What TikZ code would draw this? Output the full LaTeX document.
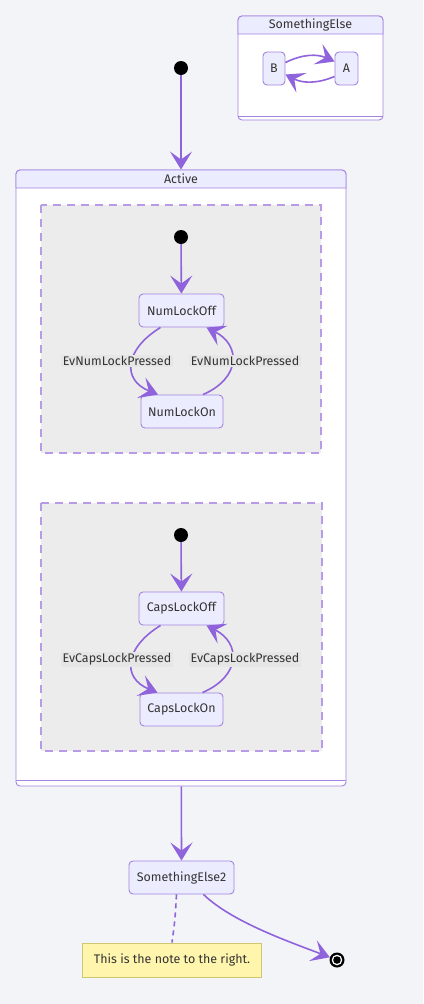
\documentclass[tikz,border=0pt]{standalone}
\usepackage{fontspec}
\setmainfont{Fira Sans}
\usetikzlibrary{arrows.meta}

\definecolor{bgcol}{HTML}{F2F4F8}
\definecolor{stfill}{HTML}{ECECFF}
\definecolor{stline}{HTML}{A583E0}
\definecolor{arrowcol}{HTML}{8F63DB}
\definecolor{regionfill}{HTML}{ECECEC}
\definecolor{dashcol}{HTML}{B79BE6}
\definecolor{labelfill}{HTML}{E6E6E6}
\definecolor{notefill}{HTML}{FFF5AD}
\definecolor{noteline}{HTML}{CFC770}
\definecolor{textcol}{HTML}{333333}

\begin{document}
\begin{tikzpicture}[x=1bp, y=-1bp,
						every node/.style={font=\fontsize{12.5}{15}\selectfont, text=textcol},
						state/.style={draw=stline, fill=stfill, rounded corners=4bp,
						line width=0.9bp, minimum height=33bp, inner sep=0pt},
						composite/.style={draw=stline, fill=white, rounded corners=4bp,
						line width=0.9bp, inner sep=0pt},
						region/.style={draw=dashcol, fill=regionfill, dashed,
						dash pattern=on 8bp off 6bp, line width=1.1bp},
						edge/.style={draw=arrowcol, line width=1.6bp,
						-{Stealth[length=18bp,width=22bp,inset=8bp]}},
						evlabel/.style={fill=labelfill, inner sep=1.5bp},
						startdot/.style={circle, fill=black, minimum size=14bp, inner sep=0pt},
						note/.style={draw=noteline, fill=notefill, line width=1bp,
						minimum width=178bp, minimum height=34bp, inner sep=0pt},
						notelink/.style={draw=arrowcol, line width=1.6bp, dashed,
						dash pattern=on 5bp off 4bp}]

		\useasboundingbox[fill=bgcol] (0,0) rectangle (423,1004);

		% SomethingElse
		\node[composite, minimum width=145bp, minimum height=104bp] (else) at (310.5,68) {};
		\draw[stline, fill=stfill, line width=0.9bp] (238,34) [rounded corners=4bp] -- (238,16)
			-- (383,16) [sharp corners] -- (383,34) -- cycle;
		\draw[stline, line width=0.9bp] (238,116) -- (383,116);
		\node (elsetitle) at (310.5,25) {SomethingElse};
		\node[state, minimum width=22bp] (b) at (274,68.5) {B};
		\node[state, minimum width=23bp] (a) at (346.5,68.5) {A};

		% Active
		\node[composite, minimum width=330bp, minimum height=616bp] (active) at (181,478) {};
		\draw[stline, fill=stfill, line width=0.9bp] (16,188) [rounded corners=4bp] -- (16,170)
			-- (346,170) [sharp corners] -- (346,188) -- cycle;
		\draw[stline, line width=0.9bp] (16,780) -- (346,780);
		\node (activetitle) at (181,179) {Active};

		\draw[region] (41,205) rectangle (321,453);
		\draw[region] (41,503) rectangle (322,751);

		\node[startdot] (start) at (181,68) {};
		\node[startdot] (numstart) at (181,237) {};
		\node[startdot] (capsstart) at (181,535) {};

		\node[state, minimum width=85bp] (numoff) at (181.5,310.5) {NumLockOff};
		\node[state, minimum width=82bp] (numon) at (182,411.5) {NumLockOn};
		\node[state, minimum width=85bp] (capsoff) at (181.5,608.5) {CapsLockOff};
		\node[state, minimum width=83bp] (capson) at (181.5,709.5) {CapsLockOn};

		\node[state, minimum width=105bp] (else2) at (181.5,877.5) {SomethingElse2};
		\node[note] (note) at (172,960) {This is the note to the right.};
		\node[circle, fill=black, minimum size=15bp, inner sep=0pt] (final) at (337,960) {};
		\fill[white] (final) circle (5.3bp);
		\fill[black] (final) circle (3.8bp);

		\draw[edge] ([yshift=6bp]b.east) to[bend left=25] ([yshift=7bp]a.west);
		\draw[edge] ([yshift=-8bp]a.west) to[bend left=25] ([yshift=-6bp]b.east);

		\draw[edge] (start) -- (active);
		\draw[edge] (numstart) -- (numoff);
		\draw[edge] (capsstart) -- (capsoff);

		\draw[edge] ([xshift=-21bp]numoff.south) .. controls (124,350) and (122,380) .. ([xshift=-24bp]numon.north);
		\draw[edge] ([xshift=21bp]numon.north) .. controls (241,378) and (241,345) .. ([xshift=25bp]numoff.south);
		\draw[edge] ([xshift=-21bp]capsoff.south) .. controls (124,648) and (122,678) .. ([xshift=-24bp]capson.north);
		\draw[edge] ([xshift=21bp]capson.north) .. controls (241,676) and (241,643) .. ([xshift=25bp]capsoff.south);

		\node[evlabel] (numlabl) at (117,361) {EvNumLockPressed};
		\node[evlabel] (numlabr) at (245,361) {EvNumLockPressed};
		\node[evlabel] (capslabl) at (117,659) {EvCapsLockPressed};
		\node[evlabel] (capslabr) at (245,659) {EvCapsLockPressed};

		\draw[edge] (active) -- (else2);
		\draw[notelink] ([xshift=-5bp]else2.south) .. controls (175,920) .. (note.north);
		\draw[edge] ([xshift=22bp]else2.south) .. controls (232,922) and (290,942) .. (final);

	\end{tikzpicture}
\end{document}
